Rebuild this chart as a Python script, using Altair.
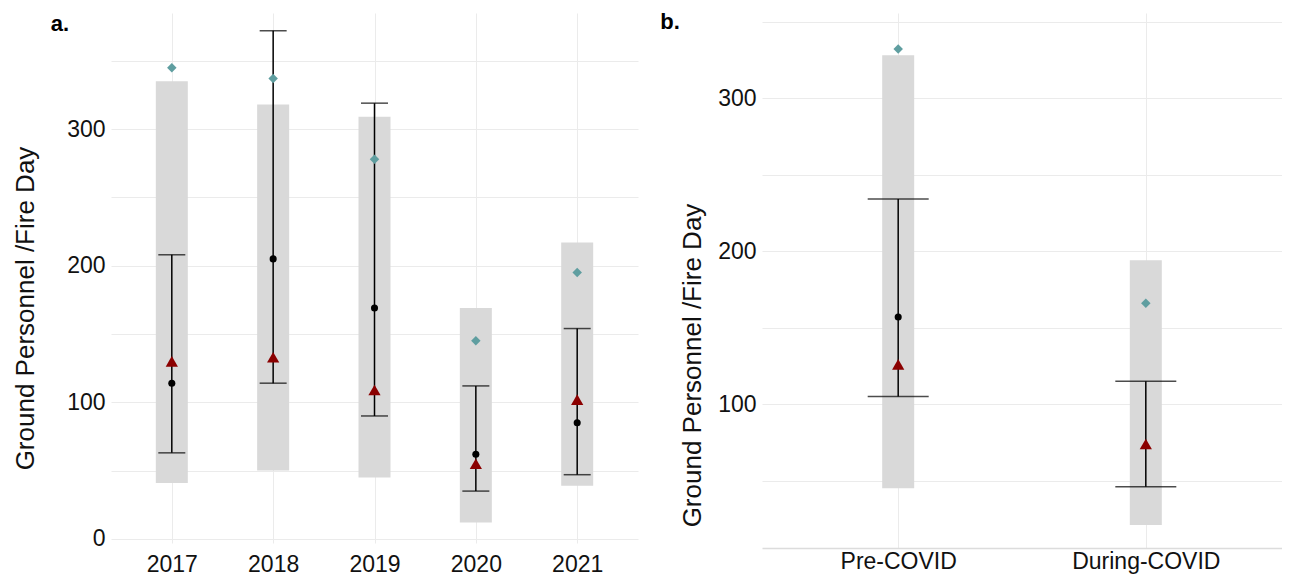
import altair as alt
import pandas as pd

# ---------------- data ----------------
years = ["2017", "2018", "2019", "2020", "2021"]
a_bar_low = [41, 50, 45, 12, 39]
a_bar_high = [335, 318, 309, 169, 217]
a_err_low = [63, 114, 90, 35, 47]
a_err_high = [208, 372, 319, 112, 154]
a_dot = [114, 205, 169, 62, 85]
a_tri = [130, 133, 109, 55, 102]
a_dia = [345, 337, 278, 145, 195]

periods = ["Pre-COVID", "During-COVID"]
b_bar_low = [45, 21]
b_bar_high = [328, 194]
b_err_low = [105, 46]
b_err_high = [234, 115]
b_dot = [157, None]
b_tri = [126, 74]
b_dia = [332, 166]

y_grid_values = [0, 50, 100, 150, 200, 250, 300, 350]

FONT = "Liberation Sans"
YTITLE = "Ground Personnel /Fire Day"
GRID = "#EBEBEB"
BARC = "#D9D9D9"
TEAL = "#5F9EA0"
DRED = "#8B0000"


def panel(cats, bl, bh, el, eh, dot, tri, dia, ydomain, width, height, pad,
          cap, label, lx, ly, title_pad, title_y, x_label_pad, x_label_size,
          x_domain):
    df = pd.DataFrame({"cat": cats, "bl": bl, "bh": bh, "el": el, "eh": eh,
                       "dot": dot, "tri": tri, "dia": dia})
    xaxis = alt.Axis(grid=True, gridColor=GRID, gridWidth=1, ticks=False,
                     domain=x_domain, domainColor="#DCDCDC", domainWidth=1.5,
                     labelAngle=0, labelFont=FONT, labelFontSize=x_label_size,
                     labelColor="#111111", labelPadding=x_label_pad, title=None)
    X = alt.X("cat:N", sort=cats, scale=alt.Scale(type="point", padding=pad),
              axis=xaxis)
    yaxis = alt.Axis(values=y_grid_values,
                     labelExpr="datum.value % 100 === 0 ? datum.label : ''",
                     grid=True, gridColor=GRID, gridWidth=1, ticks=False,
                     tickSize=0, domain=False, labelFont=FONT, labelFontSize=23,
                     labelColor="#111111", labelPadding=6, title=YTITLE,
                     titleFont=FONT, titleFontSize=26, titleFontWeight="normal",
                     titleColor="#111111", titlePadding=title_pad,
                     titleY=title_y)
    yscale = alt.Scale(domain=ydomain, nice=False, zero=False)

    def Y(f):
        return alt.Y(f + ":Q", scale=yscale, axis=yaxis)

    base = alt.Chart(df)
    bars = base.mark_bar(size=32, color=BARC).encode(x=X, y=Y("bl"), y2="bh:Q")
    err = base.mark_rule(color="black", strokeWidth=1.5).encode(
        x=X, y=Y("el"), y2="eh:Q")
    cap_lo = base.mark_tick(color="black", size=cap, thickness=1.5,
                            orient="horizontal").encode(x=X, y=Y("el"))
    cap_hi = base.mark_tick(color="black", size=cap, thickness=1.5,
                            orient="horizontal").encode(x=X, y=Y("eh"))
    dots = base.mark_point(shape="circle", filled=True, color="black",
                           size=50, opacity=1).encode(x=X, y=Y("dot"))
    tris = base.mark_point(shape="triangle-up", filled=True, color=DRED,
                           size=150, opacity=1).encode(x=X, y=Y("tri"))
    dias = base.mark_point(shape="diamond", filled=True, color=TEAL,
                           size=90, opacity=1).encode(x=X, y=Y("dia"))
    lab = alt.Chart(pd.DataFrame({"t": [label]})).mark_text(
        font=FONT, fontSize=22, fontWeight="bold", color="black",
        align="center", baseline="middle").encode(
        x=alt.value(lx), y=alt.value(ly), text="t:N")
    return alt.layer(bars, err, cap_lo, cap_hi, dots, tris, dias, lab).properties(
        width=width, height=height)


pa = panel(years, a_bar_low, a_bar_high, a_err_low, a_err_high, a_dot, a_tri,
           a_dia, [-3, 385], 527, 530, 0.6, 27, "a.", -51, 11, 28, 295, 10, 23,
           False)
pb = panel(periods, b_bar_low, b_bar_high, b_err_low, b_err_high, b_dot, b_tri,
           b_dia, [6, 355.6], 520, 535, 0.55, 61, "b.", -92, 9, 12, 352, 2, 23,
           True)

chart = alt.hconcat(pa, pb, spacing=22).properties(
    padding={"left": 4, "top": 3, "right": 0, "bottom": 0},
    background="white",
).configure_view(stroke=None)

chart.save("out.html", embed_options={"renderer": "svg", "actions": False})
